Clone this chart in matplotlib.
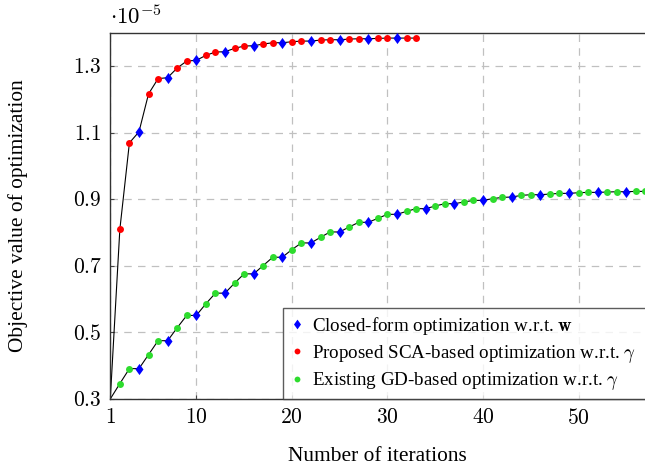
import numpy as np
import matplotlib
matplotlib.use("Agg")
import matplotlib.pyplot as plt
from matplotlib.path import Path
from matplotlib.ticker import FuncFormatter

plt.rcParams['font.family'] = ['Liberation Serif', 'DejaVu Serif']
plt.rcParams['mathtext.fontset'] = 'cm'

# objective values in units of 1e-5
sca_iters = np.arange(1, 34)
sca_vals = [0.300, 0.810, 1.070, 1.103, 1.217, 1.263, 1.266, 1.295, 1.316, 1.318,
            1.333, 1.343, 1.344, 1.354, 1.361, 1.362, 1.367, 1.371, 1.371, 1.374,
            1.376, 1.376, 1.379, 1.380, 1.380, 1.382, 1.383, 1.383, 1.384, 1.385,
            1.385, 1.385, 1.385]
gd_iters = np.arange(1, 58)
gd_vals = [0.300, 0.346, 0.391, 0.391, 0.433, 0.475, 0.475, 0.514, 0.551, 0.551,
           0.586, 0.618, 0.618, 0.648, 0.676, 0.676, 0.701, 0.726, 0.726, 0.749,
           0.769, 0.769, 0.786, 0.802, 0.802, 0.817, 0.831, 0.831, 0.843, 0.855,
           0.855, 0.864, 0.872, 0.872, 0.880, 0.887, 0.887, 0.892, 0.897, 0.897,
           0.902, 0.906, 0.907, 0.912, 0.914, 0.914, 0.916, 0.918, 0.918, 0.920,
           0.921, 0.921, 0.922, 0.923, 0.923, 0.924, 0.924]

xticks = [1, 10, 20, 30, 40, 50]
yticks = [0.3, 0.5, 0.7, 0.9, 1.1, 1.3]

labels = [r'Closed-form optimization w.r.t. $\mathbf{w}$',
          r'Proposed SCA-based optimization w.r.t. $\gamma$',
          r'Existing GD-based optimization w.r.t. $\gamma$']

green = '#2edc2e'
diamond = Path([(0, 1), (0.72, 0), (0, -1), (-0.72, 0), (0, 1)],
               [Path.MOVETO, Path.LINETO, Path.LINETO, Path.LINETO, Path.CLOSEPOLY])

fig = plt.figure(figsize=(6.45, 4.66), dpi=100)
ax = fig.add_axes([0.171, 0.144, 0.829, 0.785])

def draw(iters, vals, color):
    iters = np.asarray(iters)
    vals = np.asarray(vals)
    ax.plot(iters, vals, color='black', lw=0.8, zorder=2)
    wstep = (iters % 3 == 1) & (iters > 1)
    other = (iters % 3 != 1)
    ax.plot(iters[other], vals[other], 'o', color=color, ms=5, mec='none', zorder=3)
    ax.plot(iters[wstep], vals[wstep], marker=diamond, ls='none', color='blue',
            ms=8, mec='none', zorder=4)

draw(sca_iters, sca_vals, 'red')
draw(gd_iters, gd_vals, green)

ax.set_xlim(1, 56.95)
ax.set_ylim(0.3, 1.4)
ax.set_xticks(xticks)
ax.set_yticks(yticks)
ax.xaxis.set_major_formatter(FuncFormatter(lambda v, p: r'$%d$' % v))
ax.yaxis.set_major_formatter(FuncFormatter(lambda v, p: r'$%.1f$' % v))
ax.tick_params(direction='in', length=3, labelsize=15.5, color='#444444')
ax.tick_params(axis='y', pad=6)
ax.tick_params(axis='x', pad=7)
ax.grid(True, color='#c0c0c0', ls=(0, (6, 5)), lw=0.9)
for s in ['left', 'bottom', 'top']:
    ax.spines[s].set_color('#333333')
    ax.spines[s].set_linewidth(1.0)
ax.spines['right'].set_visible(False)

ax.text(0.0, 1.012, r'$\cdot 10^{-5}$', transform=ax.transAxes, fontsize=16.5,
        ha='left', va='bottom')
ax.set_xlabel('Number of iterations', fontsize=15.4, va='top')
ax.xaxis.set_label_coords(0.5, -0.132)
ax.set_ylabel('Objective value of optimization', fontsize=15.4)
ax.yaxis.set_label_coords(-0.153, 0.5)

h = [plt.Line2D([], [], marker=diamond, color='blue', ls='none', ms=7, mec='none'),
     plt.Line2D([], [], marker='o', color='red', ls='none', ms=4.2, mec='none'),
     plt.Line2D([], [], marker='o', color=green, ls='none', ms=4.2, mec='none')]
leg = ax.legend(h, labels, loc='lower left', bbox_to_anchor=(0.323, 0.0, 0.75, 0.27),
                mode='expand', fontsize=13.7, frameon=True, fancybox=False,
                borderaxespad=0, handlelength=0.8, handletextpad=0.4,
                labelspacing=0.3, borderpad=0.35)
leg.get_frame().set_edgecolor('#333333')
leg.get_frame().set_linewidth(1.0)

fig.savefig('out.png', dpi=100)
